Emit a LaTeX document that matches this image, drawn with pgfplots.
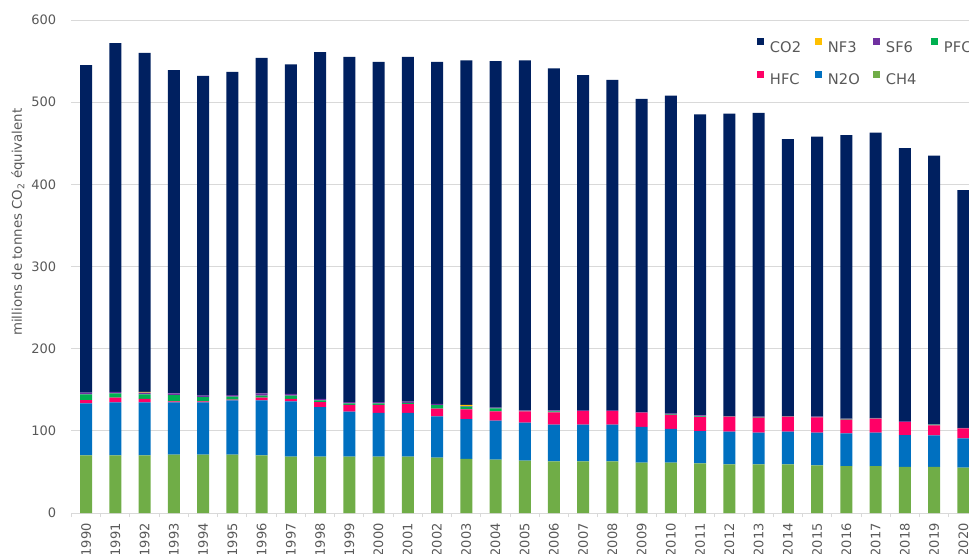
\documentclass[border=0pt]{standalone}
\usepackage{fontspec}
\setmainfont{DejaVu Sans}
\usepackage{pgfplots}
\usepackage{pgfplotstable}
\pgfplotsset{compat=1.18}
\definecolor{cCO2}{HTML}{002060}
\definecolor{cNF3}{HTML}{FFC000}
\definecolor{cSF6}{HTML}{7030A0}
\definecolor{cPFC}{HTML}{00B050}
\definecolor{cHFC}{HTML}{FF0066}
\definecolor{cN2O}{HTML}{0070C0}
\definecolor{cCH4}{HTML}{70AD47}
\definecolor{txt}{HTML}{595959}
\definecolor{grd}{HTML}{D9D9D9}
\pgfplotstableread{
year CH4 N2O HFC PFC SF6 NF3 CO2
1990 70.0 63.5 4.0 7.0 2.0 0.0 398.5
1991 70.0 64.5 6.0 5.0 2.0 0.0 424.5
1992 70.0 64.5 4.5 5.5 2.0 1.0 412.5
1993 71.0 63.5 1.5 7.5 2.0 0.0 393.5
1994 71.0 63.5 1.5 5.0 2.0 0.0 389.0
1995 71.0 66.0 1.0 3.5 2.0 0.0 393.5
1996 70.0 67.0 3.5 2.5 2.5 0.0 408.5
1997 68.5 67.5 3.0 4.0 2.0 0.0 401.0
1998 68.5 60.5 6.0 2.0 2.0 0.0 422.0
1999 68.5 55.0 8.0 2.0 1.5 0.0 420.0
2000 68.5 53.5 9.5 2.0 1.5 0.0 414.0
2001 68.5 53.5 10.5 1.5 1.5 0.0 419.5
2002 67.3 50.3 9.4 4.4 1.5 0.0 416.1
2003 66.0 48.4 11.8 3.2 0.8 1.3 419.5
2004 65.0 47.3 11.4 3.6 1.0 0.0 421.7
2005 63.7 46.2 13.8 0.5 0.8 0.0 426.0
2006 62.8 44.7 15.0 1.2 1.3 0.0 416.0
2007 62.8 44.7 16.6 0.3 0.8 0.0 407.8
2008 62.8 44.7 16.6 0.3 0.8 0.0 401.8
2009 61.2 43.5 17.4 0.2 0.4 0.0 381.3
2010 61.2 41.1 17.0 0.6 1.0 0.0 387.1
2011 60.4 39.4 17.0 0.8 1.2 0.0 366.2
2012 59.2 39.8 18.2 0.3 0.5 0.0 368.0
2013 59.2 38.5 18.3 0.8 0.5 0.0 369.7
2014 59.2 39.8 18.2 0.3 0.5 0.0 337.0
2015 58.0 39.7 18.7 0.3 0.5 0.0 340.8
2016 57.2 39.7 16.6 1.0 0.5 0.0 345.0
2017 57.2 40.5 17.1 0.4 0.6 0.0 347.2
2018 56.0 38.9 15.8 0.3 0.8 0.0 332.2
2019 56.0 38.5 12.1 1.0 0.4 0.0 327.0
2020 55.2 35.6 12.2 0.3 0.4 0.0 289.3
}\data
\pgfplotsset{lg/.style={legend image code/.code={\fill[##1,draw=none] (0pt,1.4pt) rectangle (5.2pt,6.6pt); \path (0pt,0pt) (9.75pt,0pt);}}}
\begin{document}
\begin{tikzpicture}
\begin{axis}[
  scale only axis,
  width=679.875pt, height=369.75pt,
  ybar stacked, bar width=9pt,
  xmin=1989.5, xmax=2020.5, ymin=0, ymax=600,
  axis lines*=left,
  x axis line style={draw=grd, line width=0.75pt},
  y axis line style={draw=none},
  xtick={1990,...,2020},
  minor xtick={1989.5,1990.5,...,2020.5},
  xtick align=outside,
  major tick length=0pt, minor tick length=3pt,
  every minor tick/.style={draw=grd, line width=0.75pt},
  ytick={0,100,...,600},
  ytick style={draw=none},
  ymajorgrids, grid style={draw=grd, line width=0.75pt},
  /pgf/number format/assume math mode=true,
  x tick label style={/pgf/number format/1000 sep={}, rotate=90, anchor=east, inner sep=0pt, font=\fontsize{9.75}{11}\selectfont, text=txt},
  xticklabel shift=7.5pt,
  y tick label style={anchor=east, inner sep=0pt, xshift=-11.25pt, font=\fontsize{9.75}{11}\selectfont, text=txt},
  ylabel={millions de tonnes CO\textsubscript{2} équivalent},
  every axis y label/.style={at={(rel axis cs:0,0.59)}, anchor=center, xshift=-40.1pt, rotate=90, font=\fontsize{10}{12}\selectfont, text=txt},
  legend columns=4, reverse legend,
  legend style={at={(rel axis cs:0,1)}, anchor=north west, xshift=514.1pt, yshift=-13.5pt,
    draw=none, fill=none, inner sep=0pt, outer sep=0pt, row sep=14pt, column sep=0pt,
    font=\fontsize{11}{13}\selectfont, text=txt,
    nodes={inner sep=0pt, text width=33.75pt, text height=8pt, text depth=0pt}},
]
\addplot[fill=cCH4, draw=none, lg] table[x=year, y=CH4] {\data};
\addplot[fill=cN2O, draw=none, lg] table[x=year, y=N2O] {\data};
\addplot[fill=cHFC, draw=none, lg] table[x=year, y=HFC] {\data};
\addplot[fill=cPFC, draw=none, lg] table[x=year, y=PFC] {\data};
\addplot[fill=cSF6, draw=none, lg] table[x=year, y=SF6] {\data};
\addplot[fill=cNF3, draw=none, lg] table[x=year, y=NF3] {\data};
\addplot[fill=cCO2, draw=none, lg] table[x=year, y=CO2] {\data};
\legend{CH4,N2O,HFC,PFC,SF6,NF3,CO2}
\end{axis}
\pgfresetboundingbox
\path[use as bounding box] ([shift={(-53.625pt,-30pt)}]current axis.south west) rectangle ([shift={(673.125pt,384.75pt)}]current axis.south west);
\end{tikzpicture}
\end{document}
